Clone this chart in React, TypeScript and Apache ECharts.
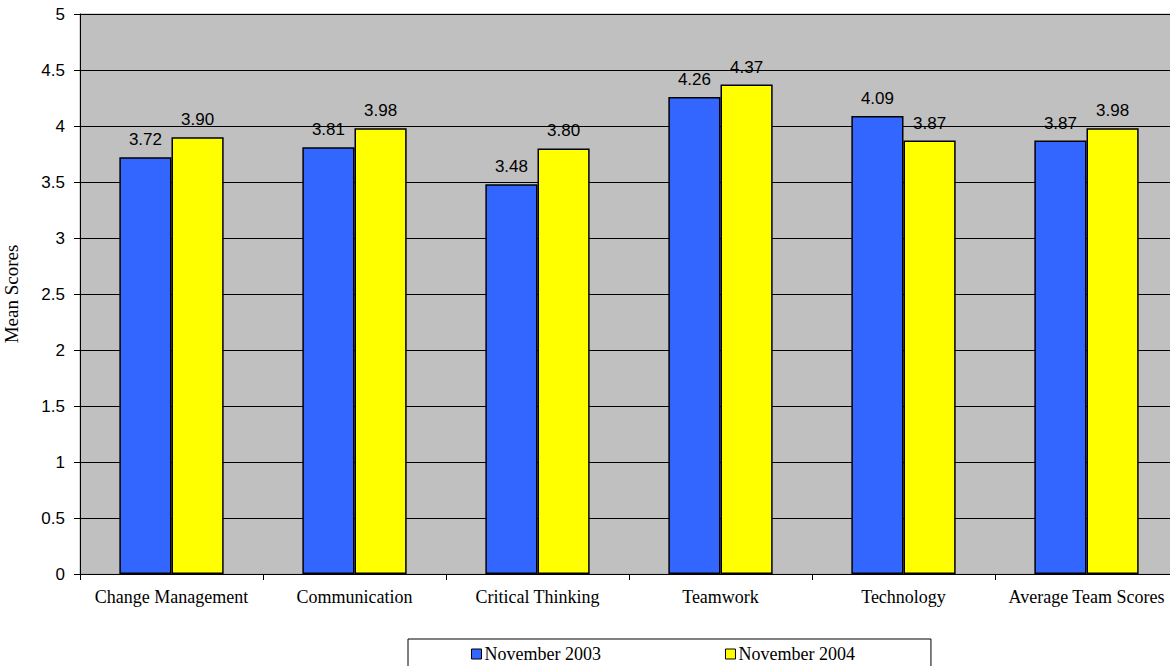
import React, { useEffect, useRef } from "react";
import * as echarts from "echarts";

const categories = [
  "Change Management",
  "Communication",
  "Critical Thinking",
  "Teamwork",
  "Technology",
  "Average Team Scores",
];
const nov2003 = [3.72, 3.81, 3.48, 4.26, 4.09, 3.87];
const nov2004 = [3.9, 3.98, 3.8, 4.37, 3.87, 3.98];
const seriesNames = ["November 2003", "November 2004"];
const yTicks = { min: 0, max: 5, interval: 0.5 };

const SERIF = "'Liberation Serif', 'DejaVu Serif', serif";
const SANS = "'Liberation Sans', Arial, sans-serif";

export default function App() {
  const ref = useRef<HTMLDivElement>(null);
  useEffect(() => {
    if (!ref.current) return;
    const chart = echarts.init(ref.current, undefined, { renderer: "svg" });
    const label = {
      show: true,
      position: "top" as const,
      distance: 9,
      fontFamily: SANS,
      fontSize: 17,
      color: "#000",
      formatter: (p: any) => Number(p.value).toFixed(2),
    };
    chart.setOption({
      animation: false,
      backgroundColor: "#fff",
      grid: {
        left: 80,
        top: 14,
        width: 1098,
        height: 560,
        outerBoundsMode: "none",
        containLabel: false,
        show: true,
        backgroundColor: "#C0C0C0",
        borderColor: "#a8a8a8",
        borderWidth: 1,
      },
      legend: {
        data: seriesNames,
        left: 408,
        top: 639,
        orient: "horizontal",
        icon: "rect",
        itemWidth: 10,
        itemHeight: 10,
        itemGap: 124,
        borderColor: "#000",
        borderWidth: 1,
        padding: [6, 76, 20, 63],
        textStyle: { fontFamily: SERIF, fontSize: 18, color: "#000", padding: [0, 0, 0, -2] },
        itemStyle: { borderColor: "#000", borderWidth: 1 },
      },
      xAxis: {
        type: "category",
        data: categories,
        axisLine: { lineStyle: { color: "#000", width: 1 } },
        axisTick: { show: true, alignWithLabel: false, length: 6, lineStyle: { color: "#000" } },
        axisLabel: { fontFamily: SERIF, fontSize: 18, color: "#000", margin: 14, interval: 0 },
      },
      yAxis: {
        type: "value",
        min: yTicks.min,
        max: yTicks.max,
        interval: yTicks.interval,
        name: "Mean Scores",
        nameLocation: "middle",
        nameGap: 59,
        nameTextStyle: { fontFamily: SERIF, fontSize: 19, color: "#000" },
        axisLine: { show: true, lineStyle: { color: "#000", width: 1 } },
        axisTick: { show: true, length: 6, lineStyle: { color: "#000" } },
        axisLabel: { fontFamily: SANS, fontSize: 17, color: "#000", margin: 15 },
        splitLine: { show: true, lineStyle: { color: "#000", width: 1 } },
      },
      series: [
        {
          name: seriesNames[0],
          type: "bar",
          data: nov2003,
          barGap: "0%",
          barCategoryGap: "43%",
          itemStyle: { color: "#3366FF", borderColor: "#000", borderWidth: 1.5 },
          label,
        },
        {
          name: seriesNames[1],
          type: "bar",
          data: nov2004,
          barGap: "0%",
          barCategoryGap: "43%",
          itemStyle: { color: "#FFFF00", borderColor: "#000", borderWidth: 1.5 },
          label,
        },
      ],
    });
    return () => chart.dispose();
  }, []);
  return (
    <div
      style={{
        position: "fixed",
        left: 0,
        top: 0,
        width: 1170,
        height: 666,
        overflow: "hidden",
        background: "#fff",
      }}
    >
      <div ref={ref} style={{ width: 1182, height: 666 }} />
    </div>
  );
}
